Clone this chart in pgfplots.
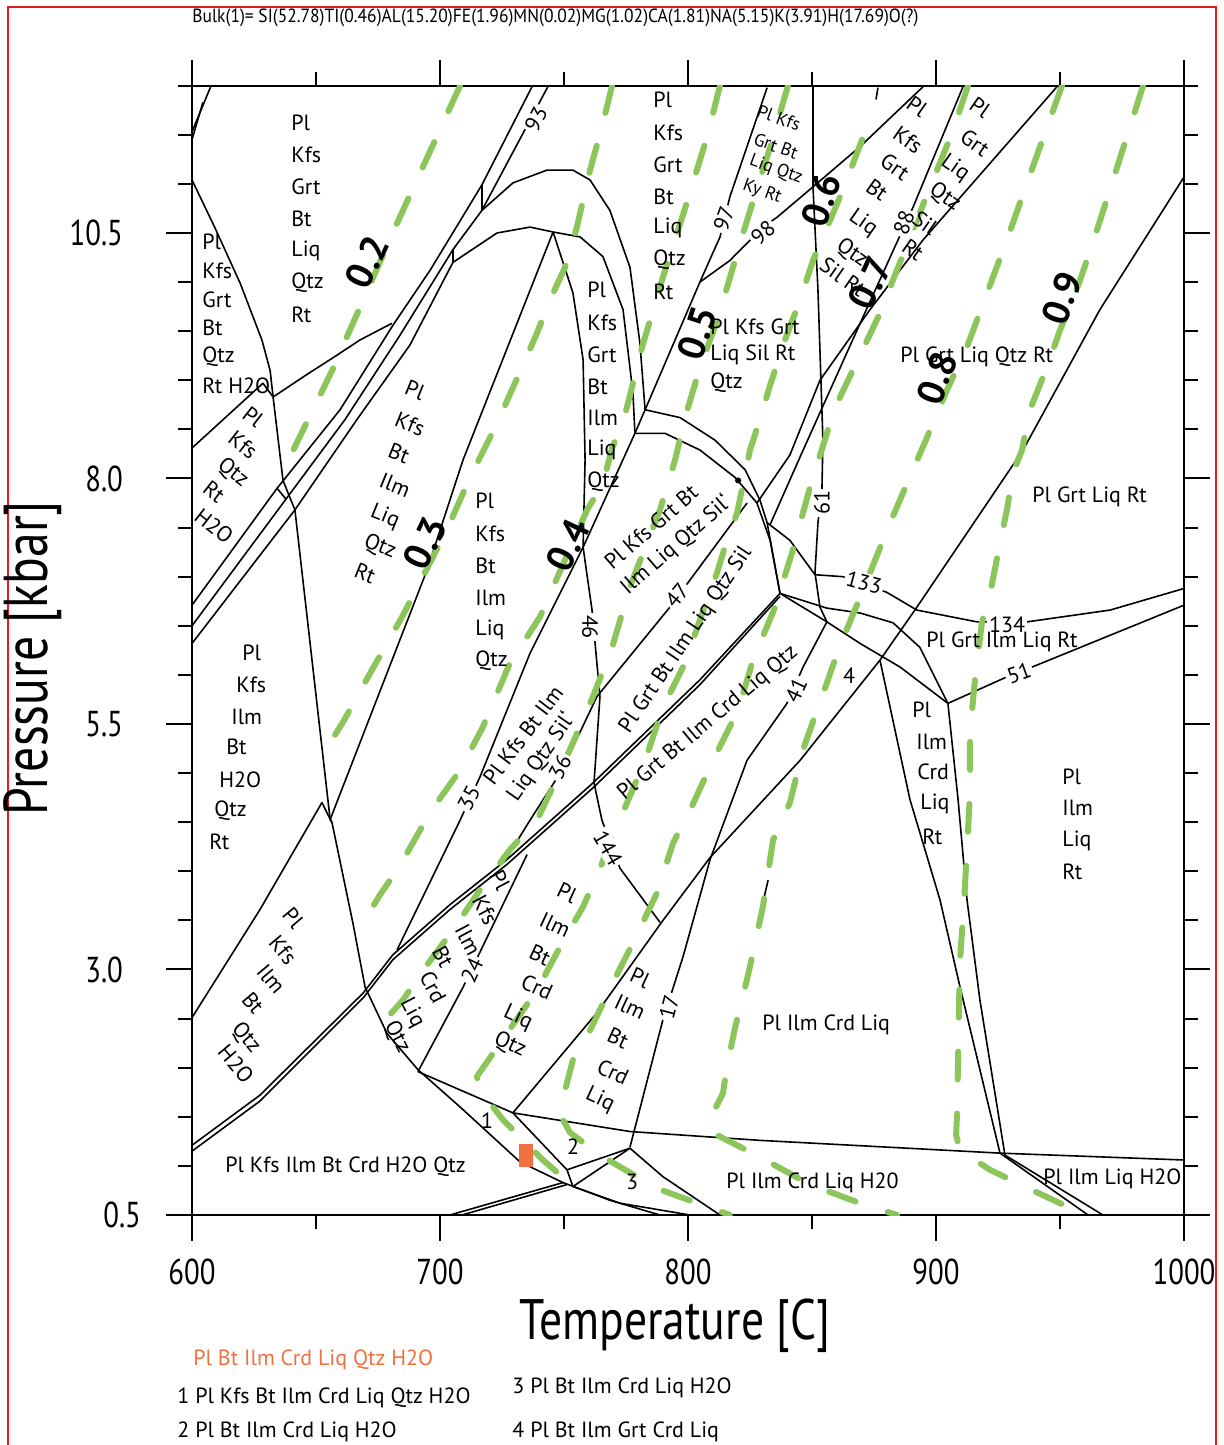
\documentclass[border=0pt]{standalone}
\usepackage{fontspec}
\setmainfont{PT Sans}
\newfontfamily\condfont[FakeStretch=0.8]{PT Sans}
\usepackage{pgfplots}
\pgfplotsset{compat=1.18}
\definecolor{cgreen}{RGB}{140,198,90}
\definecolor{corange}{RGB}{240,112,64}
\definecolor{cred}{RGB}{225,30,30}
\tikzset{
  blk/.style={black, line width=0.8pt, line join=round},
  grn/.style={cgreen, line width=3pt, dash pattern=on 14pt off 17pt, line cap=round, line join=round},
  ph/.style={font=\fontsize{11}{14}\selectfont, inner sep=0pt},
  phs/.style={font=\fontsize{9}{11}\selectfont, inner sep=0pt},
  num/.style={font=\fontsize{11}{11}\selectfont, fill=white, inner sep=1pt},
  cl/.style={font=\bfseries\fontsize{19}{19}\selectfont, inner sep=0pt},
}
\newcommand\W[3]{\node[ph,anchor=west] at (#1,#2) {#3};}
\newcommand\R[4]{\node[ph,rotate=#4] at (#1,#2) {#3};}
\begin{document}
\begin{tikzpicture}
\useasboundingbox (-96pt,-115pt) rectangle (516pt,607.5pt);
\begin{axis}[at={(0,0)}, anchor=south west, scale only axis,
  x=1.24pt, y=49.1pt, xmin=600, xmax=1000, ymin=0.5, ymax=12,
  axis line style={line width=1pt},
  tick align=outside, xtick pos=both, ytick pos=both,
  xtick={600,700,800,900,1000}, xticklabels={600,700,800,900,1000},
  minor xtick={650,750,850,950},
  ytick={0.5,3,5.5,8,10.5}, yticklabels={0.5\hspace*{-9pt},3.0,5.5,8.0,10.5},
  minor ytick={1,1.5,2,2.5,3.5,4,4.5,5,6,6.5,7,7.5,8.5,9,9.5,10,11,11.5,12},
  major tick length=13pt, minor tick length=7pt,
  tick style={black, line width=1pt},
  tick label style={font=\condfont\fontsize{18}{18}\selectfont},
  yticklabel style={xshift=-18pt},
  xticklabel style={yshift=-5.5pt},
  /pgf/number format/assume math mode=true,
  clip=true]
% ---------- black phase boundaries ----------
\addplot[blk] coordinates {(600,11.53) (607.7,12.0)};
\addplot[blk] coordinates {(600,11.45) (604.4,11.83)};
\addplot[blk] coordinates {(600,11.04) (609.3,10.55) (619.4,9.99) (628.2,9.41) (631.5,9.10) (632.7,8.83) (636.7,7.98) (641.5,7.68) (655.6,4.55) (656.5,4.49)};
\addplot[blk] coordinates {(600,8.31) (628.6,8.97) (632.7,8.83)};
\addplot[blk] coordinates {(632.7,8.83) (647.6,9.08) (656.9,9.23) (667.7,9.41) (680.6,9.58)};
\addplot[blk] coordinates {(600,6.71) (634.3,7.90) (659.7,8.70) (681.0,9.56) (696.0,10.12) (716.9,10.99) (737.1,11.99)};
\addplot[blk] coordinates {(600,6.50) (637.9,7.79) (661.7,8.60) (683.9,9.46) (705.2,10.33) (716.9,10.73) (743.5,11.99)};
\addplot[blk] coordinates {(600,6.32) (641.5,7.68) (666.5,8.60) (687.9,9.36) (705.2,10.20)};
\addplot[blk] coordinates {(634.3,7.90) (637.9,7.79)};
\addplot[blk] coordinates {(716.9,10.99) (716.9,10.73)};
\addplot[blk] coordinates {(705.2,10.33) (705.2,10.20)};
% upper and lower arcs
\addplot[blk] coordinates {(716.9,10.73) (729.4,11.01) (743.1,11.14) (753.6,11.14) (760.5,11.04) (768.5,10.73) (776.6,10.15) (780.6,9.38) (782.7,8.70)};
\addplot[blk] coordinates {(705.2,10.20) (723.0,10.50) (736.3,10.56) (745.6,10.51) (756.5,10.46) (765.7,10.26) (773.8,9.72) (777.8,8.87) (778.6,8.46)};
% 0.3 line boundary
\addplot[blk] coordinates {(745.6,10.51) (709.3,8.19) (694.8,7.07) (655.6,4.52)};
% 46 / 144 line
\addplot[blk] coordinates {(745.6,10.51) (753.6,9.89) (757.7,9.21) (758.5,8.19) (757.7,7.30) (761.3,6.66) (764.5,5.78) (762.1,4.90) (765.3,4.52) (772.6,4.03) (788.7,3.48)};
% 97 / 35 line
\addplot[blk] coordinates {(831.9,11.98) (816.9,10.87) (812.9,10.46) (804.8,10.00) (782.7,8.70) (778.6,8.46) (757.7,7.30) (736.3,6.22) (716.1,4.96) (708.1,4.52) (682.7,3.20)};
% 98 line
\addplot[blk] coordinates {(804.8,10.00) (816.9,10.22) (830.2,10.56) (835.9,10.66) (850.4,10.97) (869.4,11.38) (894.8,11.99)};
\addplot[blk] coordinates {(876.6,11.98) (875.8,11.86)};
% arcs to J1
\addplot[blk] coordinates {(782.7,8.70) (796.8,8.62) (810.9,8.39) (823.0,8.09) (829.0,7.78) (831.9,7.55) (841.1,7.37) (851.2,7.02)};
\addplot[blk] coordinates {(778.6,8.46) (790.7,8.46) (804.8,8.29) (819.0,8.01) (827.8,7.75) (833.1,7.37) (837.1,6.83)};
\addplot[blk] coordinates {(831.9,7.55) (837.1,6.83)};
% 36 / 47 line
\addplot[blk] coordinates {(823.8,7.75) (792.7,6.69) (763.3,5.78) (749.2,5.03) (736.3,4.52) (727.0,4.14)};
% double line
\addplot[blk] coordinates {(600,1.21) (627.4,1.72) (669.0,2.76) (681.0,3.15) (704.0,3.66) (727.0,4.12) (761.7,4.90) (804.8,5.95) (837.1,6.83)};
\addplot[blk] coordinates {(600,1.15) (627.4,1.66) (669.0,2.71) (681.0,3.10) (704.0,3.61) (727.0,4.07) (761.7,4.85) (804.8,5.90) (837.1,6.80)};
% left peak line
\addplot[blk] coordinates {(600,2.51) (627.4,3.61) (652.4,4.70) (656.5,4.49)};
% big curve
\addplot[blk] coordinates {(656.5,4.49) (664.9,3.47) (669.8,2.82) (678.6,2.35) (691.1,1.98) (708.1,1.60) (732.3,1.04) (749.6,0.83) (768.5,0.65) (788.7,0.5)};
% 24 line and neighbours
\addplot[blk] coordinates {(691.1,1.96) (709.3,2.82) (735.1,4.17)};
\addplot[blk] coordinates {(691.1,1.96) (729.4,1.54)};
\addplot[blk] coordinates {(729.4,1.54) (776.6,1.35) (829.0,1.26) (925.8,1.13) (1000,1.06)};
\addplot[blk] coordinates {(729.4,1.54) (751.2,0.96) (753.6,0.79)};
\addplot[blk] coordinates {(729.4,1.54) (763.3,2.56) (789.9,3.50) (808.9,4.14) (845.2,5.13) (877.4,6.15) (892.3,6.69) (935.1,8.29) (966.1,9.72) (1000,11.07)};
% 17 / 41 line
\addplot[blk] coordinates {(776.6,1.19) (789.9,2.49) (798.0,3.13) (808.9,4.12) (823.8,5.13) (839.9,5.71) (846.4,6.08) (856.0,6.54)};
\addplot[blk] coordinates {(832.3,3.91) (830.2,3.68)};
% bottom small lines
\addplot[blk] coordinates {(751.2,0.96) (776.6,1.18)};
\addplot[blk] coordinates {(753.6,0.79) (776.6,1.18)};
\addplot[blk] coordinates {(776.6,1.18) (789.9,0.89) (812.9,0.5)};
\addplot[blk] coordinates {(704.0,0.5) (749.6,0.83)};
\addplot[blk] coordinates {(708.9,0.5) (751.2,0.81)};
\addplot[blk] coordinates {(753.6,0.79) (772.6,0.62) (800.8,0.5)};
% J1 - J3 curves
\addplot[blk] coordinates {(837.1,6.83) (856.0,6.68) (869.4,6.63) (882.7,6.53) (893.5,6.28) (904.8,5.71)};
\addplot[blk] coordinates {(837.1,6.83) (856.0,6.54) (869.4,6.32) (885.5,6.08) (904.8,5.71)};
% 133 / 134
\addplot[blk] coordinates {(851.2,7.02) (862.5,7.00) (880.2,6.84) (892.3,6.66) (916.5,6.54) (936.7,6.54) (970.2,6.66) (1000,6.88)};
% 51
\addplot[blk] coordinates {(904.8,5.71) (928.6,5.98) (940.7,6.10) (1000,6.71)};
% lines down to the H2O line
\addplot[blk] coordinates {(904.8,5.71) (908.9,4.73) (912.5,3.71) (917.7,2.69) (927.8,1.11)};
\addplot[blk] coordinates {(877.4,6.15) (889.5,4.73) (901.6,3.71) (909.7,2.82) (925.8,1.13)};
\addplot[blk] coordinates {(925.8,1.13) (961.3,0.5)};
\addplot[blk] coordinates {(927.8,1.11) (967.3,0.5)};
% vertical line (61)
\addplot[blk] coordinates {(850.4,11.99) (850.4,10.97) (852.4,9.92) (854.4,8.39) (854.0,7.88) (852.4,7.55) (851.2,7.04) (853.2,6.69) (856.0,6.54)};
% lines X and Y (88)
\addplot[blk] coordinates {(827.8,7.75) (841.1,8.24) (853.2,9.00) (873.4,9.72) (894.8,10.43) (948.8,11.99)};
\addplot[blk] coordinates {(833.1,7.53) (845.2,8.22) (857.3,8.90) (869.4,9.58) (884.7,10.43) (890.7,10.76) (910.9,11.99)};
\addplot[only marks, mark=*, mark size=1.3pt, black] coordinates {(820.2,7.98)};
% ---------- green dashed contours ----------
\addplot[grn] coordinates {(708.1,12.0) (682.7,10.60) (656.5,9.10) (639.5,8.22)};
\addplot[grn] coordinates {(769.4,12.0) (765.7,11.62) (760.5,11.14) (755.2,10.56) (750.4,10.15) (744.4,9.82) (739.1,9.48) (730.2,8.97) (722.2,8.52) (712.1,8.01) (702.8,7.48) (693.1,7.00) (684.7,6.59) (673.0,6.07) (660.9,5.52) (657.7,5.39)};
\addplot[grn] coordinates {(812.9,12.0) (807.7,11.48) (798.8,10.75) (789.9,10.05) (781.5,9.34) (773.8,8.57) (769.4,8.31) (765.7,7.95) (759.3,7.68) (751.6,7.24) (740.3,6.59) (728.2,6.12) (717.3,5.47) (708.1,5.03) (698.8,4.70) (693.1,4.47) (683.9,4.06) (675.8,3.76) (666.5,3.37)};
\addplot[grn] coordinates {(840.3,12.0) (833.1,11.37) (827.0,10.89) (820.2,10.33) (812.1,9.63) (804.8,9.13) (798.8,8.62) (794.8,8.19) (788.7,7.68) (776.6,6.90) (769.4,6.28) (761.7,5.78) (752.4,5.24) (744.4,4.80) (739.1,4.52) (728.2,4.22) (716.1,3.81) (705.2,3.40) (693.1,2.99) (685.1,2.69) (677.0,2.46)};
\addplot[grn] coordinates {(870.2,11.45) (862.5,10.94) (850.4,10.22) (845.2,9.82) (839.1,9.41) (833.1,8.95) (829.0,8.60) (825.0,8.29) (819.8,7.65) (815.7,7.37) (811.7,7.04) (804.8,6.56) (798.8,6.12) (789.9,5.67) (782.7,5.13) (774.6,4.65) (769.8,4.39) (765.3,4.08) (757.7,3.64) (748.4,3.23) (739.1,2.79) (727.0,2.35) (714.9,1.91) (716.1,1.77) (725.4,1.47) (741.5,1.06) (748.4,0.91)};
\addplot[grn] coordinates {(912.9,12.0) (906.5,11.52) (895.6,10.84) (884.7,10.15) (876.6,9.64) (868.5,9.21) (861.3,8.83) (856.5,8.50) (849.2,7.91) (841.9,7.24) (835.1,6.69) (826.2,6.15) (820.2,5.64) (810.1,5.13) (800.8,4.62) (794.0,4.29) (787.5,3.78) (777.8,3.27) (769.8,2.87) (760.5,2.38) (753.6,2.08) (750.4,1.77) (749.6,1.47) (752.4,1.34) (764.5,1.11) (787.5,0.77) (816.9,0.5)};
\addplot[grn] coordinates {(950.8,12.0) (944.8,11.58) (936.7,11.01) (928.6,10.43) (920.6,9.89) (912.5,9.34) (904.4,8.90) (896.4,8.42) (881.5,7.55) (869.4,6.79) (861.3,6.30) (856.0,5.92) (846.4,5.24) (841.1,4.70) (834.3,4.32) (830.2,3.64) (825.0,3.03) (821.8,2.69) (819.0,2.41) (815.7,2.01) (814.1,1.74) (810.1,1.54) (809.7,1.34) (829.0,1.09) (849.2,0.81) (869.4,0.62) (884.3,0.5)};
\addplot[grn] coordinates {(983.5,12.0) (978.2,11.58) (971.4,11.04) (964.9,10.53) (958.1,10.02) (950.0,9.51) (944.8,9.14) (937.9,8.70) (934.7,8.29) (931.0,8.06) (928.6,7.68) (925.8,7.34) (921.8,6.83) (918.5,6.53) (915.7,5.95) (913.7,5.41) (913.7,4.80) (912.5,4.22) (911.3,3.68) (909.7,3.10) (909.3,2.66) (908.9,2.08) (908.5,1.54) (908.1,1.31) (909.7,1.16) (921.8,0.96) (940.7,0.73) (950.0,0.62) (960.9,0.5)};
% orange marker
\addplot[fill=corange, draw=none] coordinates {(731.9,0.99) (737.5,0.99) (737.5,1.22) (731.9,1.22)} -- cycle;
\end{axis}
\begin{scope}[x=0.5pt, y=-0.5pt, shift={(-96pt,607.5pt)}]
\draw[cred, line width=1.2pt] (8,1445) -- (8,7) -- (1216,7) -- (1216,1445);
\node[anchor=west, inner sep=0pt] at (192,18) {\resizebox{363pt}{6.8pt}{\condfont Bulk(1)= SI(52.78)TI(0.46)AL(15.20)FE(1.96)MN(0.02)MG(1.02)CA(1.81)NA(5.15)K(3.91)H(17.69)O(?)}};
\node[rotate=90, font=\condfont\fontsize{31}{31}\selectfont] at (33,658) {Pressure [kbar]};
\node[font=\condfont\fontsize{28.5}{28.5}\selectfont] at (675,1326) {Temperature [C]};
% legend
\node[ph, anchor=west, text=corange] at (193,1360) {Pl Bt Ilm Crd Liq Qtz H2O};
\node[ph, anchor=west] at (177,1398) {1 Pl Kfs Bt Ilm Crd Liq Qtz H2O};
\node[ph, anchor=west] at (177,1432) {2 Pl Bt Ilm Crd Liq H2O};
\node[ph, anchor=west] at (512,1388) {3 Pl Bt Ilm Crd Liq H2O};
\node[ph, anchor=west] at (512,1432) {4 Pl Bt Ilm Grt Crd Liq};
% line numbers
\node[num, rotate=62] at (536,119) {93};
\node[num, rotate=70] at (724,219) {97};
\node[num, rotate=40] at (763,233) {98};
\node[num, rotate=70] at (904,223) {88};
\node[num, rotate=90] at (822,503) {61};
\node[num, rotate=-15] at (864,583) {133};
\node[num] at (1007,625) {134};
\node[num, rotate=20] at (1019,673) {51};
\node[num, fill=none] at (849,676) {4};
\node[num, rotate=65] at (796,690) {41};
\node[num, rotate=50] at (677,595) {47};
\node[num, rotate=-90] at (590,627) {46};
\node[num, rotate=62] at (560,767) {36};
\node[num, rotate=62] at (469,798) {35};
\node[num, rotate=-60] at (608,848) {144};
\node[num, rotate=65] at (472,970) {24};
\node[num, rotate=75] at (669,1007) {17};
\node[num, fill=none] at (487,1121) {1};
\node[num, fill=none] at (573,1147) {2};
\node[num, fill=none] at (632,1182) {3};
% contour labels
\node[cl, rotate=65] at (367,262) {0.2};
\node[cl, rotate=65] at (425,543) {0.3};
\node[cl, rotate=65] at (568,545) {0.4};
\node[cl, rotate=72] at (697,333) {0.5};
\node[cl, rotate=72] at (821,200) {0.6};
\node[cl, rotate=65] at (870,283) {0.7};
\node[cl, rotate=70] at (937,378) {0.8};
\node[cl, rotate=70] at (1062,298) {0.9};
% phase field labels
\W{291}{123}{Pl}\W{291}{155}{Kfs}\W{291}{187}{Grt}\W{291}{219}{Bt}\W{291}{251}{Liq}\W{291}{283}{Qtz}\W{291}{315}{Rt}
\W{202}{242}{Pl}\W{202}{271}{Kfs}\W{202}{300}{Grt}\W{202}{328}{Bt}\W{202}{357}{Qtz}\W{202}{386}{Rt H2O}
\R{253}{417}{Pl}{-38}\R{243}{445}{Kfs}{-38}\R{233}{473}{Qtz}{-38}\R{214}{492}{Rt}{-38}\R{214}{526}{H2O}{-38}
\R{415}{390}{Pl}{-22}\R{410}{424}{Kfs}{-22}\R{399}{453}{Bt}{-22}\R{395}{485}{Ilm}{-22}\R{385}{517}{Liq}{-22}\R{380}{547}{Qtz}{-22}\R{365}{573}{Rt}{-22}
\W{475}{501}{Pl}\W{475}{534}{Kfs}\W{475}{566}{Bt}\W{475}{598}{Ilm}\W{475}{630}{Liq}\W{475}{661}{Qtz}
\W{587}{290}{Pl}\W{587}{323}{Kfs}\W{587}{355}{Grt}\W{587}{387}{Bt}\W{587}{418}{Ilm}\W{587}{450}{Liq}\W{587}{482}{Qtz}
\W{653}{100}{Pl}\W{653}{133}{Kfs}\W{653}{165}{Grt}\W{653}{197}{Bt}\W{653}{228}{Liq}\W{653}{260}{Qtz}\W{653}{292}{Rt}
\W{710}{327}{Pl Kfs Grt}\W{710}{355}{Liq Sil Rt}\W{710}{383}{Qtz}
\node[phs, rotate=-20] at (779,118) {Pl Kfs};
\node[phs, rotate=-20] at (776,146) {Grt Bt};
\node[phs, rotate=-20] at (776,170) {Liq Qtz};
\node[phs, rotate=-20] at (762,192) {Ky Rt};
\R{917}{107}{Pl}{-35}\R{908}{140}{Kfs}{-35}\R{895}{167}{Grt}{-35}\R{877}{190}{Bt}{-35}\R{863}{223}{Liq}{-35}\R{852}{253}{Qtz}{-35}\R{843}{277}{Sil Rt}{-35}
\R{980}{108}{Pl}{-35}\R{975}{143}{Grt}{-35}\R{955}{168}{Liq}{-35}\R{945}{197}{Qtz}{-35}\R{925}{223}{Sil}{-35}\R{913}{250}{Rt}{-35}
\W{900}{357}{Pl Grt Liq Qtz Rt}
\W{1032}{497}{Pl Grt Liq Rt}
\W{926}{642}{Pl Grt Ilm Liq Rt}
\W{912}{710}{Pl}\W{916}{742}{Ilm}\W{917}{772}{Crd}\W{920}{804}{Liq}\W{922}{837}{Rt}
\W{1062}{777}{Pl}\W{1062}{808}{Ilm}\W{1062}{841}{Liq}\W{1062}{872}{Rt}
\W{762}{1025}{Pl Ilm Crd Liq}
\W{726}{1183}{Pl Ilm Crd Liq H20}
\W{1043}{1179}{Pl Ilm Liq H2O}
\W{225}{1167}{Pl Kfs Ilm Bt Crd H2O Qtz}
\W{242}{653}{Pl}\W{236}{685}{Kfs}\W{231}{717}{Ilm}\W{226}{747}{Bt}\W{219}{780}{H2O}\W{214}{811}{Qtz}\W{209}{842}{Rt}
\R{293}{918}{Pl}{-50}\R{283}{950}{Kfs}{-50}\R{271}{979}{Ilm}{-50}\R{253}{1003}{Bt}{-50}\R{246}{1038}{Qtz}{-50}\R{236}{1064}{H2O}{-50}
\R{500}{880}{Pl}{-62}\R{485}{910}{Kfs}{-62}\R{468}{940}{Ilm}{-62}\R{443}{957}{Bt}{-62}\R{433}{987}{Crd}{-62}\R{412}{1013}{Liq}{-62}\R{397}{1037}{Qtz}{-62}
\R{567}{893}{Pl}{-25}\R{555}{925}{Ilm}{-25}\R{540}{955}{Bt}{-25}\R{537}{987}{Crd}{-25}\R{518}{1018}{Liq}{-25}\R{510}{1045}{Qtz}{-25}
\R{640}{978}{Pl}{-25}\R{630}{1007}{Ilm}{-25}\R{618}{1038}{Bt}{-25}\R{613}{1072}{Crd}{-25}\R{600}{1100}{Liq}{-25}
\R{651}{527}{Pl Kfs Grt Bt}{41}
\R{676}{545}{Ilm Liq Qtz Sil`}{41}
\R{686}{640}{Pl Grt Bt Ilm Liq Qtz Sil}{56}
\R{708}{723}{Pl Grt Bt Ilm Crd Liq Qtz}{40}
\R{523}{735}{Pl Kfs Bt Ilm}{53}
\R{541}{757}{Liq Qtz Sil`}{55}
\end{scope}
\end{tikzpicture}
\end{document}
